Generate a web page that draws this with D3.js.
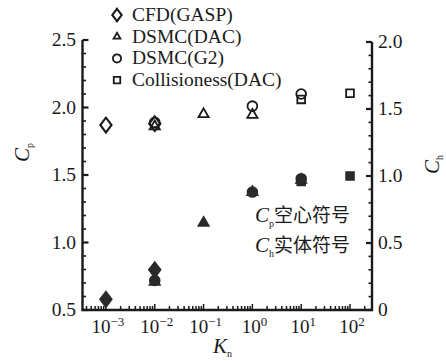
<!DOCTYPE html>
<html><head><meta charset="utf-8">
<script src="https://cdn.jsdelivr.net/npm/d3@7"></script>
<style>body{margin:0;background:#fff}svg{display:block}svg text{font-family:"Liberation Serif",serif}</style>
</head><body><svg id="c" width="446" height="361" fill="#1a1a1a"></svg>
<script>
const kn = [1e-3, 1e-2, 1e-1, 1, 10, 100];
const seriesNames = ["CFD(GASP)", "DSMC(DAC)", "DSMC(G2)", "Collisioness(DAC)"];
const cfdCp = [1.87, 1.88, null, null, null, null];
const cfdCh = [0.08, 0.30, null, null, null, null];
const dacCp = [null, 1.86, 1.95, 1.945, null, null];
const dacCh = [null, 0.21, 0.65, 0.88, 0.97, null];
const g2Cp = [null, 1.89, null, 2.01, 2.10, null];
const g2Ch = [null, 0.22, null, 0.88, 0.98, null];
const colCp = [null, null, null, null, 2.06, 2.105];
const colCh = [null, null, null, null, 0.96, 1.0];
const cpTicks = [0.5, 1.0, 1.5, 2.0, 2.5];
const chTicks = [0, 0.5, 1.0, 1.5, 2.0];
const xTickExp = [-3, -2, -1, 0, 1, 2];

const svg = d3.select("#c");
const L = 82.5, R = 372, T = 40, B = 310;
const x = d3.scaleLog().domain([Math.pow(10, -3.48), Math.pow(10, 2.45)]).range([L, R]);
const yL = d3.scaleLinear().domain([0.5, 2.5]).range([B, T]);
const yR = d3.scaleLinear().domain([0, 2.0]).range([B, 42]);
const ink = "#1a1a1a";
const SERIF = "Liberation Serif";
function txt(sel) { return sel.append("text").style("font-family", SERIF); }

svg.append("path").attr("d", `M${L},${T}V${B}H${R}V42`).attr("fill", "none").attr("stroke", ink).attr("stroke-width", 2.4);

d3.range(0.5, 2.5001, 0.1).forEach(v => {
  const major = Math.abs(v * 2 - Math.round(v * 2)) < 1e-6;
  svg.append("line").attr("x1", L).attr("x2", L + (major ? 6 : 3.5)).attr("y1", yL(v)).attr("y2", yL(v)).attr("stroke", ink).attr("stroke-width", major ? 2.2 : 1.6);
});
cpTicks.forEach(v => txt(svg).attr("x", 76).attr("y", yL(v) + 6).attr("text-anchor", "end").attr("font-size", 19.5).text(v.toFixed(1)));
d3.range(0, 2.0001, 0.1).forEach(v => {
  const major = Math.abs(v * 2 - Math.round(v * 2)) < 1e-6;
  svg.append("line").attr("x1", R).attr("x2", R - (major ? 6 : 3.5)).attr("y1", yR(v)).attr("y2", yR(v)).attr("stroke", ink).attr("stroke-width", major ? 2.2 : 1.6);
});
chTicks.forEach(v => txt(svg).attr("x", 378).attr("y", yR(v) + 6).attr("font-size", 19.5).text(v === 0 ? "0" : v.toFixed(1)));

const [d0, d1] = x.domain();
for (let e = -4; e <= 2; e++) {
  for (let m = 1; m <= 9; m++) {
    const v = m * Math.pow(10, e);
    if (v < d0 || v > d1) continue;
    svg.append("line").attr("x1", x(v)).attr("x2", x(v)).attr("y1", B).attr("y2", B - (m === 1 ? 6 : 4)).attr("stroke", ink).attr("stroke-width", 1.5);
  }
}
xTickExp.forEach(e => {
  const t = txt(svg).attr("x", x(Math.pow(10, e)) + 2).attr("y", 333).attr("text-anchor", "middle").attr("font-size", 19);
  t.append("tspan").text("10");
  t.append("tspan").attr("dy", -7).attr("font-size", 13).text(e < 0 ? "\u2212" + (-e) : String(e));
});

const xt = txt(svg).attr("x", 213).attr("y", 353).attr("font-size", 21).attr("font-style", "italic");
xt.append("tspan").text("K");
xt.append("tspan").attr("dy", 4).attr("font-size", 10).attr("font-style", "normal").text("n");
const yt = txt(svg).attr("transform", "translate(29,162) rotate(-90)").attr("font-size", 21).attr("font-style", "italic");
yt.append("tspan").text("C");
yt.append("tspan").attr("dy", 4).attr("font-size", 10).attr("font-style", "normal").text("p");
const yt2 = txt(svg).attr("transform", "translate(439,174) rotate(-90)").attr("font-size", 21).attr("font-style", "italic");
yt2.append("tspan").text("C");
yt2.append("tspan").attr("dy", 4).attr("font-size", 10).attr("font-style", "normal").text("h");

const shapes = [d3.symbolDiamond, d3.symbolTriangle, d3.symbolCircle, d3.symbolSquare];
const sizes = [70, 45, 75, 60];
function sym(i, cx, cy, filled, scale) {
  svg.append("path").attr("d", d3.symbol().type(shapes[i]).size(sizes[i] * (scale || 1))())
    .attr("transform", `translate(${cx},${cy})` + (i === 0 ? " scale(1.25,0.95)" : ""))
    .attr("fill", filled ? "#2a2a2a" : "none").attr("stroke", filled ? "#2a2a2a" : ink).attr("stroke-width", 1.8);
}
const cpSets = [cfdCp, dacCp, g2Cp, colCp];
const chSets = [cfdCh, dacCh, g2Ch, colCh];
[3, 2, 1, 0].forEach(i => {
  cpSets[i].forEach((v, j) => { if (v != null) sym(i, x(kn[j]), yL(v), false); });
  chSets[i].forEach((v, j) => { if (v != null) sym(i, x(kn[j]), yR(v), true); });
});

seriesNames.forEach((n, i) => {
  const yy = 15 + i * 21.7;
  sym(i, 117, yy, false, i === 1 ? 0.45 : 0.7);
  txt(svg).attr("x", 132).attr("y", yy + 6).attr("font-size", 19.5).text(n);
});

[["p", "空心符号", 222], ["h", "实体符号", 252]].forEach(([s, t, yy]) => {
  const a = txt(svg).attr("x", 255).attr("y", yy).attr("font-size", 21);
  a.append("tspan").attr("font-style", "italic").text("C");
  a.append("tspan").attr("dy", 5).attr("font-size", 10).text(s);
  a.append("tspan").attr("dy", -5).style("font-family", "Noto Sans CJK SC").attr("font-size", 19).text(t);
});
</script></body></html>
